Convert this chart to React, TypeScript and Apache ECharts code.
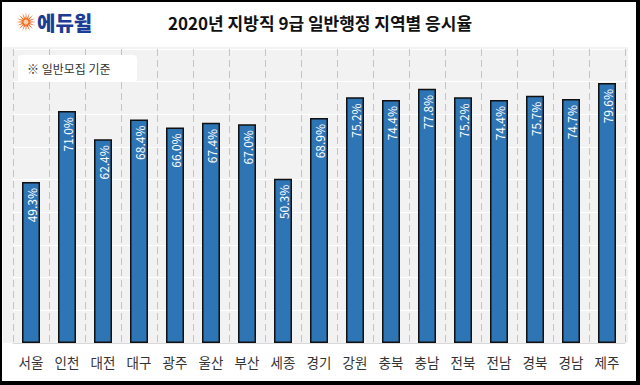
import React, { useEffect, useRef } from "react";
import * as echarts from "echarts";

const categories = ["서울", "인천", "대전", "대구", "광주", "울산", "부산", "세종", "경기", "강원", "충북", "충남", "전북", "전남", "경북", "경남", "제주"];
const rates = [49.3, 71.0, 62.4, 68.4, 66.0, 67.4, 67.0, 50.3, 68.9, 75.2, 74.4, 77.8, 75.2, 74.4, 75.7, 74.7, 79.6];
const titleText = "2020년 지방직 9급 일반행정 지역별 응시율";
const noteText = "※ 일반모집 기준";
const logoText = "에듀윌";

const FONT = "'Noto Sans CJK KR', 'Noto Sans', sans-serif";

function starPoints(cx: number, cy: number, rOut: number, rIn: number, n: number) {
  const pts: number[][] = [];
  for (let i = 0; i < n * 2; i++) {
    const r = i % 2 === 0 ? rOut : rIn;
    const a = (Math.PI * i) / n - Math.PI / 2;
    pts.push([cx + r * Math.cos(a), cy + r * Math.sin(a)]);
  }
  return pts;
}

export default function App() {
  const ref = useRef<HTMLDivElement>(null);
  useEffect(() => {
    if (!ref.current) return;
    const chart = echarts.init(ref.current, null, { renderer: "svg" });
    chart.setOption({
      animation: false,
      backgroundColor: "#ffffff",
      title: {
        text: titleText,
        left: "center",
        top: 9,
        textStyle: { fontFamily: FONT, fontSize: 17, fontWeight: "bold", color: "#111" },
      },
      grid: { left: 13, right: 15, top: 49, bottom: 42 },
      xAxis: {
        type: "category",
        data: categories,
        axisLine: { show: true, lineStyle: { color: "#d9d9d9", width: 1 } },
        axisTick: { show: false },
        axisLabel: { fontFamily: FONT, fontSize: 13.5, color: "#333", margin: 12, interval: 0 },
        splitLine: { show: true, lineStyle: { color: "#c4c4c4", type: [7, 4], width: 1 } },
        z: 1,
      },
      yAxis: {
        type: "value",
        min: 0,
        max: 90,
        interval: 10,
        axisLine: { show: false },
        axisTick: { show: false },
        axisLabel: { show: false },
        splitLine: { show: true, lineStyle: { color: "#ffffff", width: 1 } },
      },
      series: [
        {
          type: "bar",
          data: rates,
          barWidth: 18,
          itemStyle: { color: "#2e75b6", borderColor: "#111", borderWidth: 1.5 },
          label: {
            show: true,
            position: "insideTop",
            rotate: 90,
            align: "right",
            verticalAlign: "middle",
            distance: 6,
            color: "#ffffff",
            fontFamily: FONT,
            fontSize: 12,
            formatter: (p: any) => p.value.toFixed(1) + "%",
          },
          z: 3,
        },
      ],
      graphic: [
        { type: "rect", z: -10, shape: { x: 3, y: 47, width: 625, height: 296 }, style: { fill: "#f2f2f2" } },
        { type: "rect", z: 20, shape: { x: 18, y: 55, width: 119, height: 27, r: 4 }, style: { fill: "#ffffff" } },
        {
          type: "text", z: 21, x: 27, y: 68.5,
          style: { text: noteText, fontFamily: FONT, fontSize: 12, fill: "#333", verticalAlign: "middle" },
        },
        {
          type: "polygon", z: 21,
          shape: { points: starPoints(26, 22, 10, 3.5, 16) },
          style: { fill: "#f26a21" },
        },
        { type: "circle", z: 22, shape: { cx: 26, cy: 22, r: 2.5 }, style: { fill: "#ffd2a8" } },
        {
          type: "text", z: 21, x: 37, y: 22,
          style: { text: logoText, fontFamily: FONT, fontSize: 20, fontWeight: 900, fill: "#1b3e94", verticalAlign: "middle" },
        },
        { type: "rect", z: 30, shape: { x: 0, y: 0, width: 640, height: 2 }, style: { fill: "#000" } },
        { type: "rect", z: 30, shape: { x: 0, y: 0, width: 2, height: 385 }, style: { fill: "#000" } },
        { type: "rect", z: 30, shape: { x: 636, y: 0, width: 4, height: 385 }, style: { fill: "#000" } },
        { type: "rect", z: 30, shape: { x: 0, y: 381, width: 640, height: 4 }, style: { fill: "#000" } },
      ],
    });
    return () => chart.dispose();
  }, []);
  return <div ref={ref} style={{ position: "fixed", left: 0, top: 0, width: 640, height: 385 }} />;
}
